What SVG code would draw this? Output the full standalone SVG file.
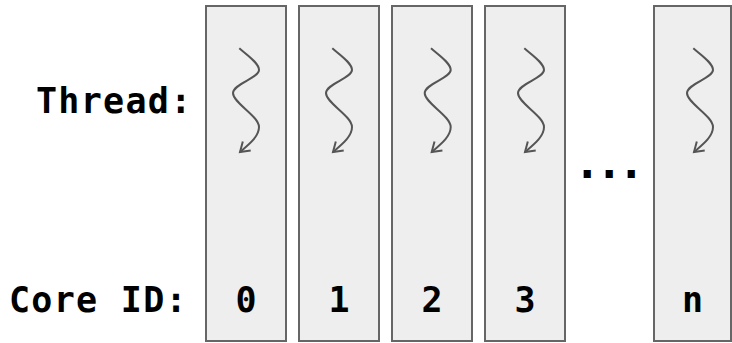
<svg xmlns="http://www.w3.org/2000/svg" xmlns:xlink="http://www.w3.org/1999/xlink" width="732" height="343" viewBox="0 0 732 343">
<style>
.box{fill:#eeeeee;stroke:#666666;stroke-width:2}
.lbl{font-family:"DejaVu Sans Mono","Liberation Mono",monospace;font-weight:bold;font-size:35px;fill:#000;letter-spacing:1.3px}
.num{font-family:"DejaVu Sans Mono","Liberation Mono",monospace;font-weight:bold;font-size:35px;fill:#000;text-anchor:middle}
.thr{fill:none;stroke:#555555;stroke-width:2;marker-end:url(#arr)}
</style>
<defs>
<marker id="arr" markerUnits="userSpaceOnUse" markerWidth="20" markerHeight="20" refX="10" refY="10" orient="auto" viewBox="0 0 20 20">
<path d="M1,4 L10,10 L1,16" fill="none" stroke="#555555" stroke-width="2"/>
</marker>
<path id="thread" class="thr" d="M0,0 C7.7,6.7 19.7,14.7 19.7,21.7 C19.7,29.7 -6.3,35.7 -6.3,44.7 C-6.3,54.7 19.7,67.7 19.7,78.7 C19.7,88.7 8.7,96.7 0.7,103.7"/>
</defs>
<g id="labels">
<text id="thread-label" class="lbl" x="36" y="113">Thread:</text>
<text id="core-label" class="lbl" x="9" y="312">Core ID:</text>
</g>
<g id="core0">
<rect class="box" x="206" y="6" width="80" height="335"/>
<use xlink:href="#thread" href="#thread" x="239.3" y="48.3"/>
<text class="num" x="246" y="312">0</text>
</g>
<g id="core1">
<rect class="box" x="299" y="6" width="80" height="335"/>
<use xlink:href="#thread" href="#thread" x="332.3" y="48.3"/>
<text class="num" x="339" y="312">1</text>
</g>
<g id="core2">
<rect class="box" x="392" y="6" width="80" height="335"/>
<use xlink:href="#thread" href="#thread" x="431" y="48.3"/>
<text class="num" x="432" y="312">2</text>
</g>
<g id="core3">
<rect class="box" x="485" y="6" width="80" height="335"/>
<use xlink:href="#thread" href="#thread" x="524.3" y="48.3"/>
<text class="num" x="525" y="312">3</text>
</g>
<g id="ellipsis">
<text class="num" x="607" y="178" style="font-size:44px;letter-spacing:-4.5px">...</text>
</g>
<g id="coren">
<rect class="box" x="654" y="6" width="77" height="335"/>
<use xlink:href="#thread" href="#thread" x="693.3" y="48.3"/>
<text class="num" x="692.5" y="312">n</text>
</g>
<g id="connectors"></g>
</svg>
